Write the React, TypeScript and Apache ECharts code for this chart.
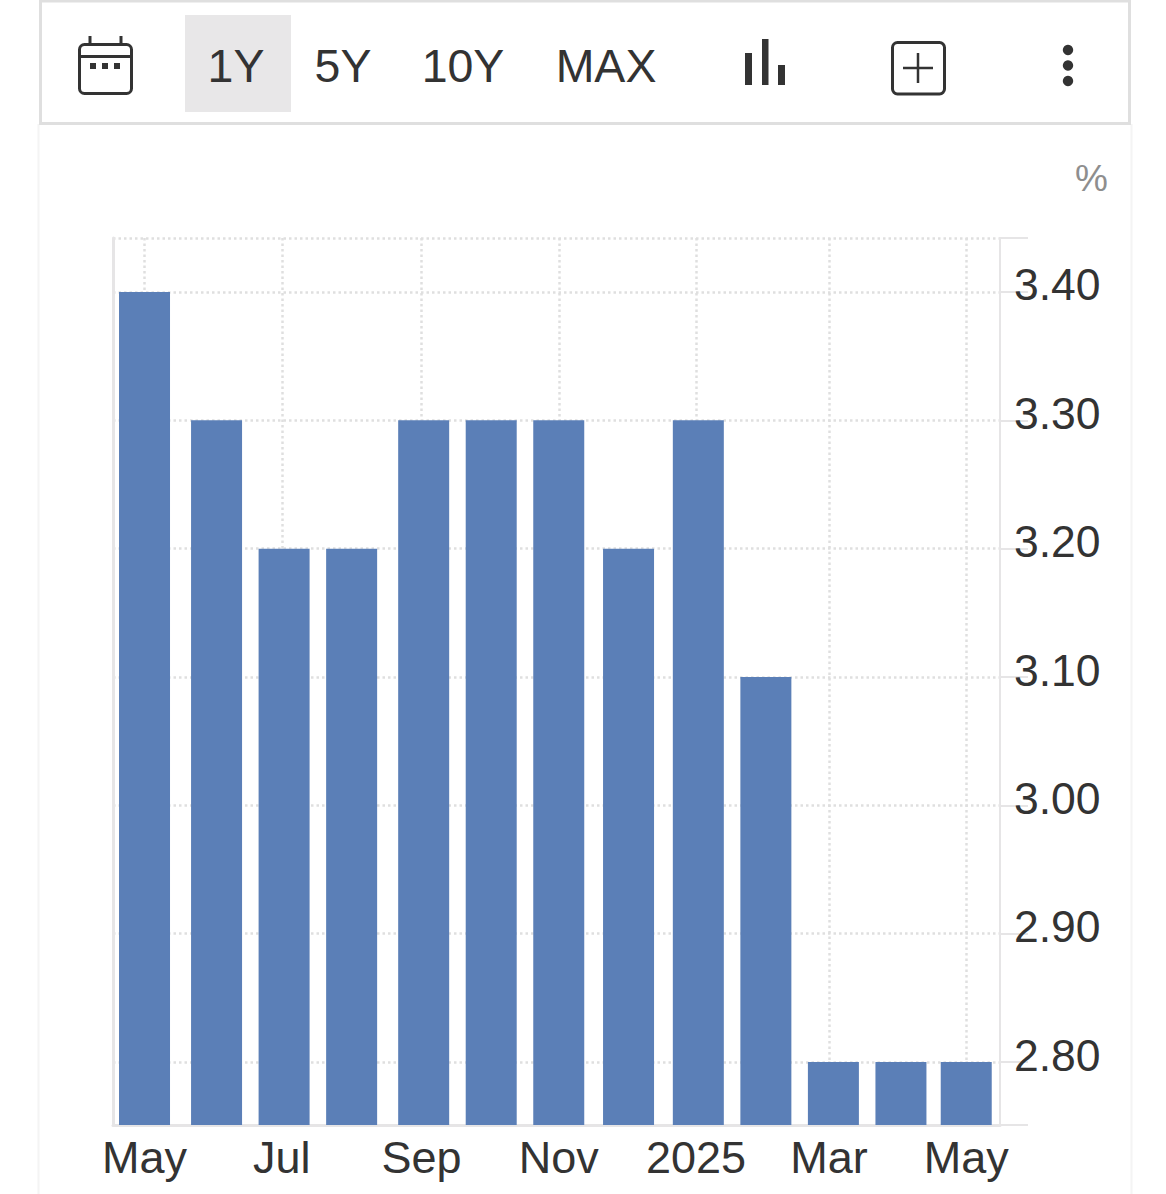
import React, { useEffect, useRef } from "react";
import * as echarts from "echarts";

const months = [
  "2024-05-01", "2024-06-02", "2024-07-02", "2024-08-01", "2024-09-02", "2024-10-02", "2024-11-01",
  "2024-12-02", "2025-01-02", "2025-02-01", "2025-03-03", "2025-04-02", "2025-05-01",
];
const rates = [3.4, 3.3, 3.2, 3.2, 3.3, 3.3, 3.3, 3.2, 3.3, 3.1, 2.8, 2.8, 2.8];
const xTickDates = ["2024-05-01", "2024-07-01", "2024-09-01", "2024-11-01", "2025-01-01", "2025-03-01", "2025-05-01"];
const xTickLabels = ["May", "Jul", "Sep", "Nov", "2025", "Mar", "May"];
const yTicks = [2.8, 2.9, 3.0, 3.1, 3.2, 3.3, 3.4];
const rangeButtons = ["1Y", "5Y", "10Y", "MAX"];
const unitLabel = "%";

const ms = (d: string) => new Date(d + "T00:00:00Z").getTime();
const FONT = '"Liberation Sans", Arial, sans-serif';
const INK = "#333333";
const AXIS = "#e6e5e6";
const GRID = "#dfdfdf";
const DOTS = [2.5, 3];
const yMin = 2.751;
const yMax = 3.442;
const xMin = ms("2024-04-17");
const xMax = ms("2025-05-16");

const line = (x1: number, y1: number, x2: number, y2: number, stroke: string, lineWidth: number) => ({
  type: "line", shape: { x1, y1, x2, y2 }, style: { stroke, lineWidth }, silent: true,
});
const rect = (x: number, y: number, width: number, height: number, style: any, r = 0) => ({
  type: "rect", shape: { x, y, width, height, r }, style, silent: true,
});
const dot = (cx: number, cy: number, r: number) => ({
  type: "circle", shape: { cx, cy, r }, style: { fill: INK }, silent: true,
});
const buttonX = [236, 343, 463, 606];

export default function App() {
  const ref = useRef<HTMLDivElement>(null);
  useEffect(() => {
    document.body.style.margin = "0";
    const chart = echarts.init(ref.current!, null, { renderer: "svg" });
    const xTickValues = xTickDates.map(ms);
    chart.setOption({
      animation: false,
      backgroundColor: "#ffffff",
      grid: { left: 113, right: 166, top: 238, bottom: 69, containLabel: false },
      xAxis: {
        type: "value",
        min: xMin,
        max: xMax,
        axisLine: { show: true, onZero: false, lineStyle: { color: AXIS, width: 3 } },
        axisTick: { show: false, customValues: xTickValues },
        splitLine: { show: true, lineStyle: { color: GRID, type: DOTS, width: 2.5 } },
        axisLabel: {
          customValues: xTickValues,
          formatter: (v: number) => xTickLabels[xTickValues.indexOf(v)] ?? "",
          color: INK, fontFamily: FONT, fontSize: 45, margin: 10, hideOverlap: false,
        },
      },
      yAxis: [
        {
          type: "value",
          position: "right",
          min: yMin,
          max: yMax,
          axisLine: { show: true, lineStyle: { color: AXIS, width: 2 } },
          axisTick: { show: true, length: 28, lineStyle: { color: AXIS, width: 2 }, customValues: [yMin, ...yTicks, yMax] },
          splitLine: { show: true, lineStyle: { color: GRID, type: DOTS, width: 2.5 } },
          axisLabel: {
            customValues: yTicks,
            formatter: (v: number) => v.toFixed(2),
            color: INK, fontFamily: FONT, fontSize: 44.5, margin: 14, verticalAlign: "bottom", lineHeight: 14,
          },
        },
        {
          type: "value",
          position: "left",
          min: yMin,
          max: yMax,
          axisLine: { show: true, lineStyle: { color: AXIS, width: 3 } },
          axisTick: { show: false },
          axisLabel: { show: false },
          splitLine: { show: false },
        },
      ],
      series: [
        {
          type: "bar",
          barWidth: 51,
          yAxisIndex: 0,
          itemStyle: { color: "#5b7fb7" },
          data: months.map((m, i) => [ms(m), rates[i]]),
        },
      ],
      graphic: [
        line(38.5, 124, 38.5, 1194, "#f4f4f4", 2),
        line(1131.5, 124, 1131.5, 1194, "#f4f4f4", 2),
        rect(40.5, 1, 1089, 122.5, { fill: "#ffffff", stroke: "#dfdfdf", lineWidth: 3 }),
        rect(185, 15, 106, 97, { fill: "#e8e7e8" }),
        ...rangeButtons.map((t, i) => ({
          type: "text", x: buttonX[i], y: 66, silent: true,
          style: { text: t, fill: INK, font: `46.5px ${FONT}`, align: "center", verticalAlign: "middle" },
        })),
        rect(79.5, 44.5, 52, 49, { fill: "none", stroke: INK, lineWidth: 3 }, 5),
        line(79.5, 56.5, 131.5, 56.5, INK, 3),
        line(90, 36, 90, 44, INK, 3),
        line(121, 36, 121, 44, INK, 3),
        rect(90, 63, 6, 6, { fill: INK }),
        rect(102, 63, 6, 6, { fill: INK }),
        rect(114, 63, 6, 6, { fill: INK }),
        rect(745, 53, 7, 32, { fill: INK }),
        rect(762, 39, 6.5, 46, { fill: INK }),
        rect(778, 65, 7, 20, { fill: INK }),
        rect(892.5, 42.5, 52, 51.5, { fill: "none", stroke: INK, lineWidth: 3 }, 5),
        line(903, 68, 933, 68, INK, 2.5),
        line(918, 53, 918, 83, INK, 2.5),
        dot(1068, 50, 5.2),
        dot(1068, 65.5, 5.2),
        dot(1068, 81, 5.2),
        {
          type: "text", x: 1091.5, y: 178, silent: true,
          style: { text: unitLabel, fill: "#8e8e8e", font: `37px ${FONT}`, align: "center", verticalAlign: "middle" },
        },
      ],
    });
    return () => chart.dispose();
  }, []);
  return <div ref={ref} style={{ width: 1166, height: 1194 }} />;
}
